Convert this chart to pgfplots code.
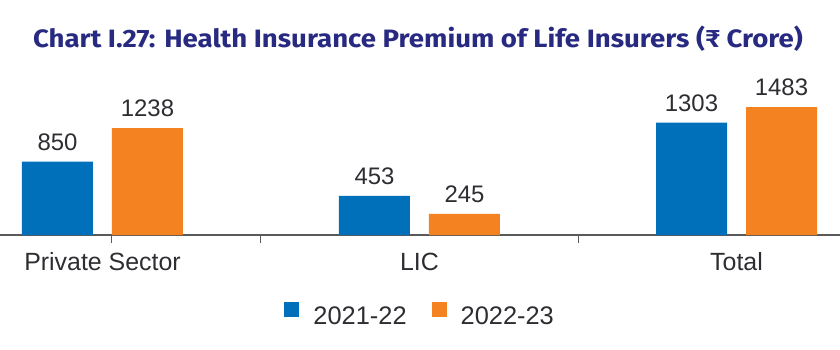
\documentclass[border=0pt]{standalone}
\usepackage{pgfplots}
\pgfplotsset{compat=1.18}
\usepackage{fontspec}
\setmainfont{Liberation Sans}
\newfontfamily\titlefont{Fira Sans}[FakeStretch=1.1]
\definecolor{cblue}{RGB}{0,112,186}
\definecolor{corange}{RGB}{244,130,32}
\definecolor{ctitle}{RGB}{40,42,130}
\definecolor{ctext}{RGB}{45,45,50}
\definecolor{caxis}{RGB}{90,90,90}
\begin{document}
\begin{tikzpicture}
\useasboundingbox (0bp,-115bp) rectangle (840bp,235bp);
\begin{axis}[
  scale only axis, width=840bp, height=155bp,
  at={(0,0)}, anchor=south west,
  xmin=-0.3233, xmax=2.3265, ymin=0, ymax=1796,
  ybar=19bp, bar width=71bp,
  axis y line=none, axis x line*=bottom,
  x axis line style={caxis, line width=1.3bp},
  xtick={0,1,2}, xticklabels={Private Sector, LIC, Total},
  major tick length=0pt, tick align=outside,
  extra x ticks={0.03,0.5,1.5}, extra x tick labels={},
  extra x tick style={major tick length=8bp, tick style={caxis, line width=1bp}},
  xticklabel style={font=\fontsize{25}{29}\selectfont, text=ctext, anchor=base, yshift=-35bp},
  /pgf/number format/1000 sep={}, /pgf/number format/assume math mode=true,
  nodes near coords,
  every node near coord/.append style={font=\fontsize{24}{28}\selectfont, text=ctext, inner sep=0pt, anchor=south, yshift=11bp},
  title={\titlefont\bfseries Chart I.27: Health Insurance Premium of Life Insurers (₹ Crore)},
  title style={at={(0.4976,1.174)}, anchor=base, font=\fontsize{25.2}{30}\selectfont, text=ctitle},
  legend style={at={(0.499,-0.5097)}, anchor=center, draw=none, fill=none, legend columns=-1,
    font=\fontsize{25.5}{29}\selectfont, text=ctext, nodes={inner sep=0pt},
    /tikz/every odd column/.append style={column sep=14bp},
    /tikz/every even column/.append style={column sep=25bp}},
  legend image code/.code={\fill[#1] (0bp,0bp) rectangle (15bp,15bp);},
]
\addplot[fill=cblue, draw=none] coordinates {(0,850) (1,453) (2,1303)};
\addplot[fill=corange, draw=none] coordinates {(0,1238) (1,245) (2,1483)};
\legend{2021-22, 2022-23}
\end{axis}
\end{tikzpicture}
\end{document}
